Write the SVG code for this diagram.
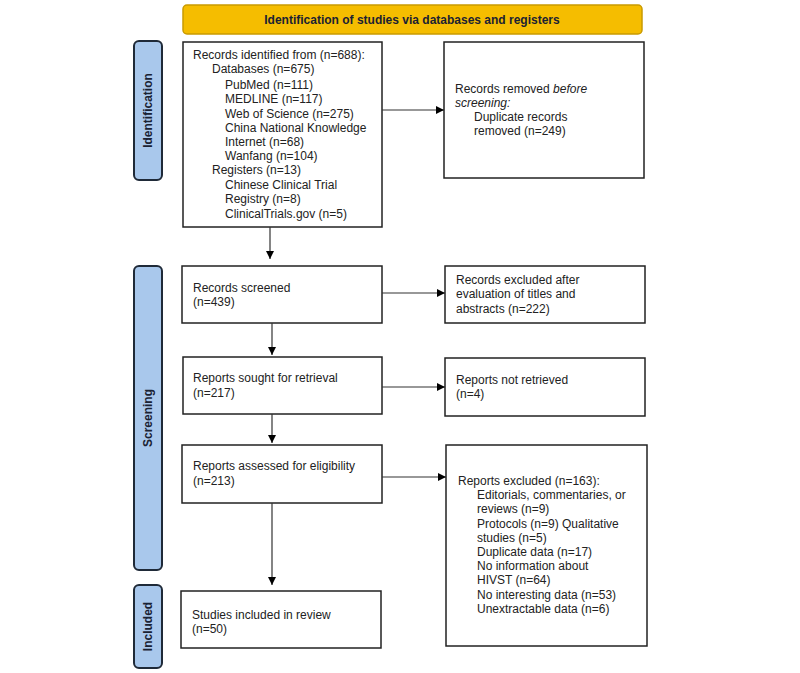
<svg xmlns="http://www.w3.org/2000/svg" width="800" height="673" viewBox="0 0 800 673">
<defs>
<marker id="arr" viewBox="0 0 10 10" refX="10" refY="5" markerWidth="8" markerHeight="8" markerUnits="userSpaceOnUse" orient="auto">
<path d="M0,0 L10,5 L0,10 z" fill="#000"/>
</marker>
</defs>
<style>
.box{fill:#fff;stroke:#222;stroke-width:1.5}
.lab{fill:#A9C8EC;stroke:#1F2A38;stroke-width:2}
.t{font-family:"Liberation Sans",Arial,sans-serif;font-size:12px;fill:#222}
.lt{font-family:"Liberation Sans",Arial,sans-serif;font-size:12px;font-weight:bold;fill:#1a2233}
.con{stroke:#333;stroke-width:1.2;fill:none;marker-end:url(#arr)}
</style>
<rect width="800" height="673" fill="#fff"/>
<g id="banner">
<rect x="183" y="5" width="459" height="29" rx="4" fill="#F5BD00" stroke="#C99A00" stroke-width="1.5"/>
<text class="lt" x="412" y="24" text-anchor="middle" fill="#222">Identification of studies via databases and registers</text>
</g>
<g id="label-identification">
<rect class="lab" x="134" y="41" width="28" height="139" rx="5"/>
<text class="lt" transform="translate(152,110.5) rotate(-90)" text-anchor="middle">Identification</text>
</g>
<g id="label-screening">
<rect class="lab" x="134" y="266" width="28" height="304" rx="5"/>
<text class="lt" transform="translate(152,418) rotate(-90)" text-anchor="middle">Screening</text>
</g>
<g id="label-included">
<rect class="lab" x="134" y="585" width="28" height="83" rx="5"/>
<text class="lt" transform="translate(152,626.5) rotate(-90)" text-anchor="middle">Included</text>
</g>
<g id="records-identified">
<rect class="box" x="183" y="42" width="199" height="185"/>
<text class="t" x="193" y="59">Records identified from (n=688):</text>
<text class="t" x="212" y="73">Databases (n=675)</text>
<text class="t" x="225" y="89">PubMed (n=111)</text>
<text class="t" x="225" y="103">MEDLINE (n=117)</text>
<text class="t" x="225" y="117.5">Web of Science (n=275)</text>
<text class="t" x="225" y="131.5">China National Knowledge</text>
<text class="t" x="225" y="145.5">Internet (n=68)</text>
<text class="t" x="225" y="160">Wanfang (n=104)</text>
<text class="t" x="212" y="174">Registers (n=13)</text>
<text class="t" x="225" y="189">Chinese Clinical Trial</text>
<text class="t" x="225" y="203">Registry (n=8)</text>
<text class="t" x="225" y="218">ClinicalTrials.gov (n=5)</text>
</g>
<g id="records-removed">
<rect class="box" x="444" y="42" width="200" height="136"/>
<text class="t" x="455" y="93">Records removed <tspan font-style="italic">before</tspan></text>
<text class="t" x="455" y="107" font-style="italic">screening:</text>
<text class="t" x="474" y="121">Duplicate records</text>
<text class="t" x="474" y="135">removed (n=249)</text>
</g>
<g id="records-screened">
<rect class="box" x="182" y="266" width="200" height="57"/>
<text class="t" x="193" y="292">Records screened</text>
<text class="t" x="193" y="306">(n=439)</text>
</g>
<g id="records-excluded">
<rect class="box" x="445" y="266" width="200" height="57"/>
<text class="t" x="456" y="284">Records excluded after</text>
<text class="t" x="456" y="298">evaluation of titles and</text>
<text class="t" x="456" y="312.5">abstracts (n=222)</text>
</g>
<g id="reports-sought">
<rect class="box" x="183" y="357" width="199" height="57"/>
<text class="t" x="193" y="382">Reports sought for retrieval</text>
<text class="t" x="193" y="396.5">(n=217)</text>
</g>
<g id="reports-not-retrieved">
<rect class="box" x="445" y="358" width="200" height="58"/>
<text class="t" x="456" y="384">Reports not retrieved</text>
<text class="t" x="456" y="398">(n=4)</text>
</g>
<g id="reports-assessed">
<rect class="box" x="182" y="445" width="200" height="58"/>
<text class="t" x="193" y="470">Reports assessed for eligibility</text>
<text class="t" x="193" y="485">(n=213)</text>
</g>
<g id="reports-excluded">
<rect class="box" x="446" y="445" width="201" height="201"/>
<text class="t" x="458" y="485">Reports excluded (n=163):</text>
<text class="t" x="477" y="499">Editorials, commentaries, or</text>
<text class="t" x="477" y="513">reviews (n=9)</text>
<text class="t" x="477" y="527.5">Protocols (n=9) Qualitative</text>
<text class="t" x="477" y="542">studies (n=5)</text>
<text class="t" x="477" y="556">Duplicate data (n=17)</text>
<text class="t" x="477" y="570">No information about</text>
<text class="t" x="477" y="584">HIVST (n=64)</text>
<text class="t" x="477" y="598.5">No interesting data (n=53)</text>
<text class="t" x="477" y="613">Unextractable data (n=6)</text>
</g>
<g id="studies-included">
<rect class="box" x="181" y="591" width="200" height="57"/>
<text class="t" x="192" y="619">Studies included in review</text>
<text class="t" x="192" y="633">(n=50)</text>
</g>
<g id="connectors">
<line class="con" x1="382" y1="110" x2="444" y2="110"/>
<line class="con" x1="270" y1="227" x2="270" y2="259"/>
<line class="con" x1="382" y1="293" x2="445" y2="293"/>
<line class="con" x1="272" y1="323" x2="272" y2="355"/>
<line class="con" x1="382" y1="387" x2="445" y2="387"/>
<line class="con" x1="272" y1="414" x2="272" y2="443"/>
<line class="con" x1="382" y1="477" x2="446" y2="477"/>
<line class="con" x1="272" y1="503" x2="272" y2="585"/>
</g>
</svg>
